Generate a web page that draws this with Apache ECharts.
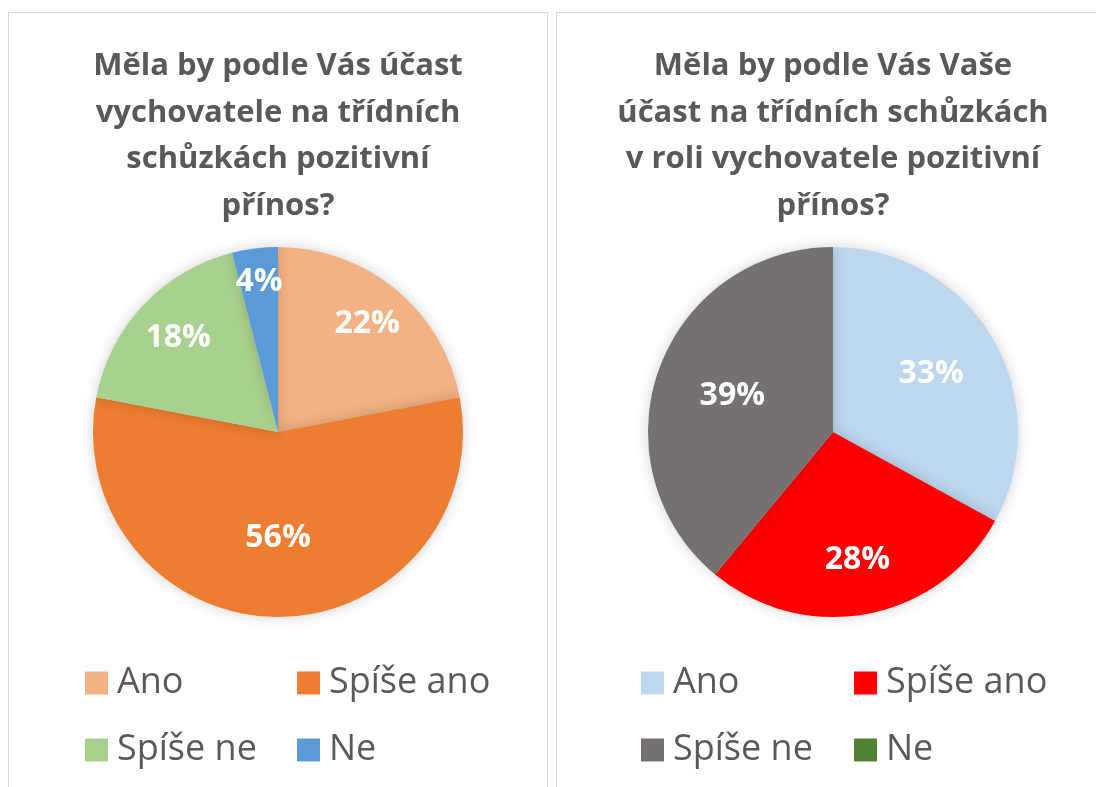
<!DOCTYPE html>
<html>
<head>
<meta charset="utf-8">
<script src="https://cdn.jsdelivr.net/npm/echarts@6/dist/echarts.min.js"></script>
<style>
  html, body { margin: 0; padding: 0; width: 1096px; height: 787px; overflow: hidden; background: #fff; }
  .panel {
    position: absolute;
    top: 12px;
    height: 800px;
    border: 1px solid #d9d9d9;
    background: #fff;
  }
  #left { left: 8px; width: 538px; }
  #right { left: 556px; width: 560px; }
</style>
</head>
<body>
<div id="left" class="panel"></div>
<div id="right" class="panel"></div>
<script>
// data
const categories = ["Ano", "Spíše ano", "Spíše ne", "Ne"];
const leftTitle = "Měla by podle Vás účast\nvychovatele na třídních\nschůzkách pozitivní\npřínos?";
const leftValues = [22, 56, 18, 4];
const leftColors = ["#F4B183", "#ED7D31", "#A9D18E", "#5B9BD5"];
const rightTitle = "Měla by podle Vás Vaše\núčast na třídních schůzkách\nv roli vychovatele pozitivní\npřínos?";
const rightValues = [33, 28, 39, 0];
const rightColors = ["#BDD7EE", "#FF0000", "#767171", "#548235"];

const FONT = "'Open Sans', 'Noto Sans', sans-serif";
const CY = 419;
const R = 185;

function makeChart(el, title, values, colors, cfg) {
  const chart = echarts.init(el);
  const data = categories.map((name, i) => ({
    name: name,
    value: values[i],
    itemStyle: { color: colors[i] }
  }));
  const legendBase = {
    orient: "vertical",
    top: 645,
    itemWidth: 23,
    itemHeight: 23,
    itemGap: 27,
    icon: "rect",
    selectedMode: false,
    textStyle: {
      fontFamily: FONT,
      fontSize: 36,
      lineHeight: 40,
      color: "#595959",
      padding: [0, 0, 0, 4]
    }
  };
  const option = {
    animation: false,
    title: {
      text: title,
      left: cfg.cx,
      top: 30,
      padding: 0,
      textAlign: "center",
      textStyle: {
        fontFamily: FONT,
        fontWeight: "bold",
        fontSize: 31,
        lineHeight: 46.5,
        color: "#595959"
      }
    },
    legend: [
      Object.assign({}, legendBase, { left: cfg.col1, data: [categories[0], categories[2]] }),
      Object.assign({}, legendBase, { left: cfg.col2, data: [categories[1], categories[3]] })
    ],
    series: [
      {
        type: "pie",
        center: [cfg.cx, CY],
        radius: R,
        startAngle: 90,
        clockwise: true,
        silent: true,
        itemStyle: {
          borderWidth: 0,
          shadowBlur: 14,
          shadowColor: "rgba(0,0,0,0.18)"
        },
        label: {
          show: true,
          position: "inside",
          fontFamily: FONT,
          fontWeight: "bold",
          fontSize: 32,
          color: "#fff",
          formatter: p => (p.value > 0 ? p.value + "%" : "")
        },
        labelLine: { show: false },
        // push each label out along its radius, like Excel's best fit
        labelLayout: p => {
          const lx = p.labelRect.x + p.labelRect.width / 2 - cfg.cx;
          const ly = p.labelRect.y + p.labelRect.height / 2 - CY;
          const d = Math.sqrt(lx * lx + ly * ly) || 1;
          const k = (cfg.labelR[p.dataIndex] - d) / d;
          return { dx: lx * k, dy: ly * k };
        },
        data: data
      }
    ]
  };
  chart.setOption(option);
  return chart;
}

makeChart(document.getElementById("left"), leftTitle, leftValues, leftColors,
  { cx: 269, col1: 71, col2: 283, labelR: [140, 106, 137, 151] });
makeChart(document.getElementById("right"), rightTitle, rightValues, rightColors,
  { cx: 276, col1: 79, col2: 292, labelR: [114, 130, 107, 100] });
</script>
</body>
</html>
